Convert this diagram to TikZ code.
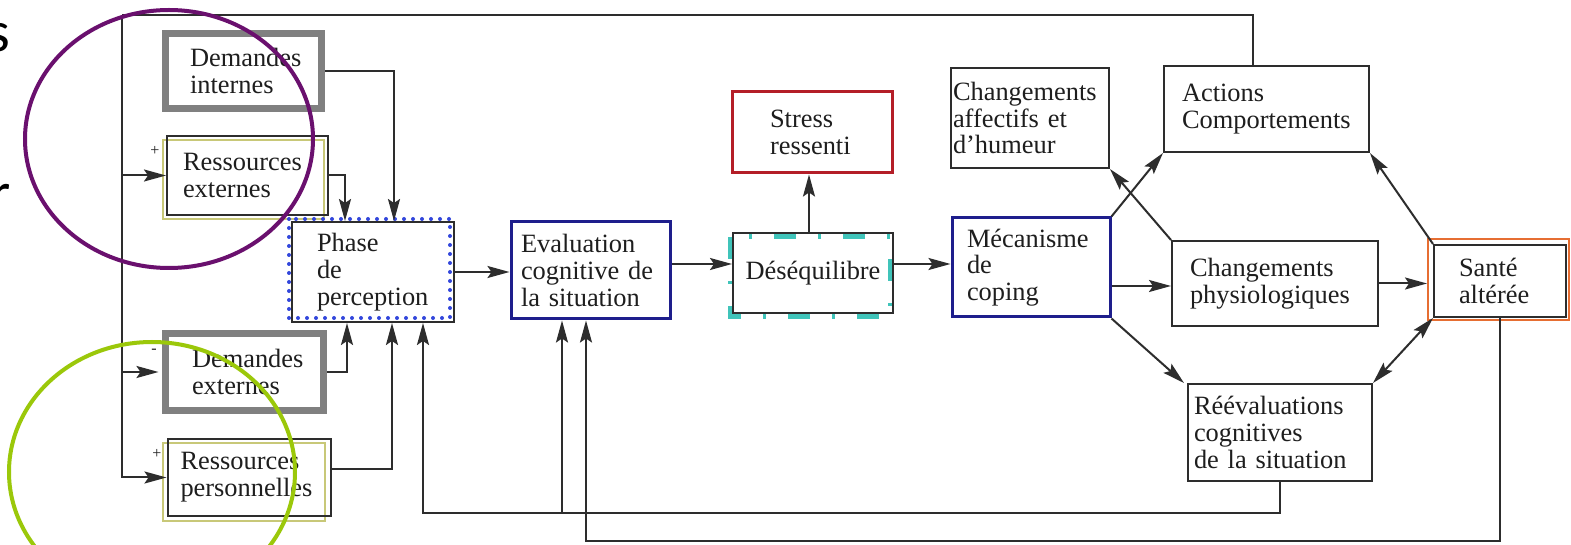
\documentclass[tikz,border=0pt]{standalone}
\usepackage{fontspec}
\setmainfont{Liberation Serif}
\newfontfamily\slidefont{Carlito}
\usetikzlibrary{arrows.meta,calc}
\definecolor{linec}{RGB}{45,45,45}
\definecolor{txtc}{RGB}{30,30,30}
\definecolor{demgray}{RGB}{128,128,128}
\definecolor{olivec}{RGB}{200,200,120}
\definecolor{navyc}{RGB}{30,30,140}
\definecolor{dotblue}{RGB}{50,70,220}
\definecolor{tealc}{RGB}{64,196,186}
\definecolor{stressred}{RGB}{180,30,40}
\definecolor{orangec}{RGB}{230,110,50}
\definecolor{purplec}{RGB}{106,16,110}
\definecolor{greenc}{RGB}{155,200,10}
\newcommand\boxfont{\fontsize{13.2pt}{13.4pt}\selectfont}
\tikzset{
  box/.style={rectangle, draw=linec, line width=1pt, align=left, inner ysep=0pt,
    font=\boxfont, text=txtc},
  conn/.style={draw=linec, line width=1pt},
  tip/.style={},
  arr/.style={conn, -{Stealth[length=11pt,width=6pt,inset=2pt]}},
  arrd/.style={conn, {Stealth[length=11pt,width=6pt,inset=2pt]}-{Stealth[length=11pt,width=6pt,inset=2pt]}},
  sign/.style={font=\fontsize{8pt}{8pt}\selectfont, text=txtc, inner sep=0pt},
  bigtxt/.style={font=\slidefont\fontsize{29pt}{29pt}\selectfont, inner sep=0pt, text=black},
  ring/.style={line width=2pt}
}
\begin{document}
\begin{tikzpicture}[x=0.5pt,y=-0.5pt]
\useasboundingbox (0,0) rectangle (1571,545);
\clip (0,0) rectangle (1571,545);
\fill[white] (0,0) rectangle (1571,545);

% decorative outer borders (drawn behind the boxes)
\draw[olivec, line width=1pt] (163,140) rectangle (324,219);
\draw[olivec, line width=1pt] (163,443) rectangle (325,521);
\draw[tealc, line width=2.5pt, dash pattern=on 11pt off 11pt on 1.5pt off 11pt] (730,237) rectangle (890,317);
\draw[orangec, line width=1.3pt] (1428,239) rectangle (1569,320);

% boxes
\node[box, draw=demgray, line width=3.5pt, text width=53.5pt, inner xsep=12.25pt, minimum height=37.5pt] (dint) at (243.5,71) {Demandes\\internes};
\node[box, text width=64.5pt, inner xsep=8pt, minimum height=39.5pt] (rext) at (247.5,175.5) {Ressources\\externes};
\node[box, text width=56pt, inner xsep=12.5pt, minimum height=50pt] (phase) at (373,272) {Phase\\de\\perception};
\node[box, draw=demgray, line width=3.5pt, text width=52.5pt, inner xsep=13.25pt, minimum height=38.5pt] (dext) at (244.5,372) {Demandes\\externes};
\node[box, text width=68.5pt, inner xsep=6.5pt, minimum height=38.5pt] (rper) at (249,477.5) {Ressources\\personnelles};
\node[box, draw=navyc, line width=1.5pt, text width=69.5pt, inner xsep=5pt, minimum height=48.5pt] (eval) at (590.5,270.5) {Evaluation\\cognitive~de\\la situation};
\node[box, align=center, text width=80pt, inner xsep=0pt, minimum height=40pt] (deseq) at (813,273) {Déséquilibre};
\node[box, draw=stressred, line width=1.5pt, text width=42pt, inner xsep=19pt, minimum height=40.5pt] (stress) at (812,132.5) {Stress\\ressenti};
\node[box, draw=navyc, line width=1.5pt, text width=64pt, inner xsep=7.5pt, minimum height=49.5pt] (meca) at (1031,267.5) {Mécanisme\\de\\coping};
\node[box, text width=77pt, inner xsep=1pt, minimum height=50pt] (affect) at (1030,118) {Changements\\affectifs et\\d'humeur};
\node[box, text width=84.5pt, inner xsep=9pt, minimum height=43pt] (actions) at (1266.5,109) {Actions\\Comportements};
\node[box, text width=85pt, inner xsep=9pt, minimum height=42.5pt] (physio) at (1275,283.5) {Changements\\physiologiques};
\node[box, text width=41pt, inner xsep=12.5pt, minimum height=36pt] (sante) at (1500,281) {Santé\\altérée};
\node[box, text width=86pt, inner xsep=3pt, minimum height=48.5pt] (reeval) at (1280,432.5) {Réévaluations\\cognitives\\de la situation};

% dotted blue border of the perception phase
\draw[dotblue, line width=2pt, line cap=round, dash pattern=on 0pt off 4.5pt] (289,219) rectangle (450,318);

% signs
\node[sign] (p1) at (155,151) {+};
\node[sign] (m1) at (154,351) {-};
\node[sign] (p2) at (157,454) {+};

% helper coordinates
\coordinate (tl) at (122,15);
\coordinate (loopA) at (0,513);
\coordinate (loopB) at (0,541);
\coordinate (ac) at ($(actions.north)+(-13.5,0)$);
\coordinate (e1) at ($(eval.south)+(-28.5,0)$);
\coordinate (e2) at ($(eval.south)+(-4.5,0)$);
\coordinate (ds) at ($(deseq.north)+(-4,0)$);
\coordinate (mp) at ($(meca.east)+(0,18.5)$);
\coordinate (ee) at ($(eval.east)+(0,-6.5)$);
\coordinate (de) at ($(deseq.east)+(0,-9)$);
\coordinate (re) at ($(rper.east)+(0,-8)$);

% feedback from actions to the inputs
\draw[conn] (ac) |- (tl);
\draw[arr] (tl) |- (rper.west);
\draw[arr] (tl |- rext.west) -- (rext.west);
\draw[arr, shorten >=1.75pt] (tl |- dext.west) -- (dext.west);

% inputs to perception
\draw[arr] (dint.east) -| ($(phase.north)+(21,0)$);
\draw[arr] (rext.east) -| ($(phase.north)+(-28,0)$);
\draw[arr] (dext.east) -| ($(phase.south)+(-26,0)$);
\draw[arr] (re) -| ($(phase.south)+(19,0)$);

% main chain
\draw[arr] (phase.east) -- (phase.east -| eval.west);
\draw[arr] (ee) -- (ee -| deseq.west);
\draw[arr] (de) -- (de -| meca.west);
\draw[arr] (ds) -- (ds |- stress.south);
\draw[arr] (mp) -- (mp -| physio.west);
\draw[arr, shorten >=3pt] (physio.east) -- (physio.east -| sante.west);

% diagonals
\draw[arr] (meca.north east) -- (actions.south west);
\draw[arr] (physio.north west) -- (affect.south east);
\draw[arr] (meca.south east) -- ($(reeval.north west)+(-3,0)$);
\draw[arr] (sante.north west) -- (actions.south east);
\draw[arrd] (sante.south west) -- (reeval.north east);

% bottom loops
\draw[arr] (reeval.south) -- (reeval.south |- loopA) -| ($(phase.south)+(50,0)$);
\draw[arr] (e1 |- loopA) -- (e1);
\draw[arr] (sante.south) -- (sante.south |- loopB) -| (e2);

% slide overlays
\node[bigtxt, anchor=base east] (ls) at (11,52) {s};
\node[bigtxt, anchor=base east] (lr) at (11,213) {r};
\draw[purplec, ring] (169,139) ellipse [x radius=144, y radius=129];
\draw[greenc, ring] (152,472) ellipse [x radius=143, y radius=130];
\end{tikzpicture}
\end{document}
